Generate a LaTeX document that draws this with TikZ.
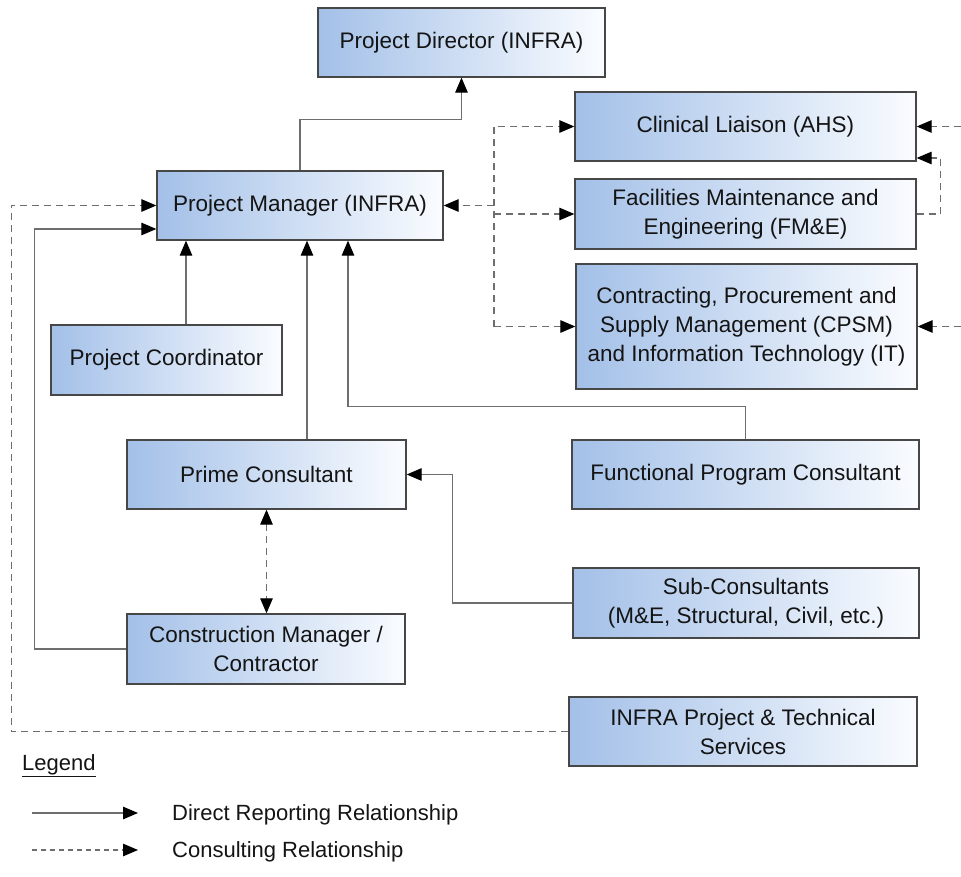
\documentclass[tikz,border=0pt]{standalone}
\usepackage{fontspec}
\setmainfont{Liberation Sans}
\usetikzlibrary{arrows.meta,calc}
\definecolor{boxL}{HTML}{A3C0E8}
\definecolor{boxR}{HTML}{FAFCFF}
\definecolor{boxline}{HTML}{474747}
\definecolor{linkgray}{HTML}{6E6E6E}
\definecolor{txt}{HTML}{141414}
\begin{document}
\begin{tikzpicture}[x=1pt,y=-1pt,
  >={Triangle[length=15pt,width=12.5pt,color=black]},
  orgbox/.style={draw=boxline, line width=1.3pt, left color=boxL, right color=boxR,
    inner sep=0pt, align=center, text=txt,
    font=\fontsize{22.5}{29}\selectfont},
  rep/.style={draw=linkgray, line width=1.1pt},
  con/.style={draw=linkgray, line width=1.1pt, dash pattern=on 7pt off 5pt},
  legtext/.style={text=txt, inner sep=0pt, font=\fontsize{22}{26}\selectfont}]
\useasboundingbox (0,0) rectangle (961,877);

% organisation boxes
\node[orgbox, minimum width=287pt, minimum height=69pt] (pd) at (461.5,42.5) {Project Director (INFRA)};
\node[orgbox, minimum width=286pt, minimum height=69pt] (pm) at (300,205.5) {Project Manager (INFRA)};
\node[orgbox, minimum width=341pt, minimum height=69pt] (cl) at (745.5,126.5) {Clinical Liaison (AHS)};
\node[orgbox, minimum width=341pt, minimum height=70pt] (fm) at (745.5,214) {Facilities Maintenance and\\Engineering (FM\&E)};
\node[orgbox, minimum width=341pt, minimum height=125pt] (cp) at (746.5,326.5) {Contracting, Procurement and\\Supply Management (CPSM)\\and Information Technology (IT)};
\node[orgbox, minimum width=231pt, minimum height=70pt] (pc) at (166.5,360) {Project Coordinator};
\node[orgbox, minimum width=279pt, minimum height=69pt] (pr) at (266.5,474.5) {Prime Consultant};
\node[orgbox, minimum width=347pt, minimum height=69pt] (fp) at (745.5,474.5) {Functional Program Consultant};
\node[orgbox, minimum width=346pt, minimum height=70pt] (sc) at (746,603) {Sub-Consultants\\(M\&E, Structural, Civil, etc.)};
\node[orgbox, minimum width=278pt, minimum height=70pt] (cm) at (266,649) {Construction Manager /\\Contractor};
\node[orgbox, minimum width=348pt, minimum height=69pt] (it) at (743,731.5) {INFRA Project \& Technical\\Services};

% helper columns
\coordinate (x186) at (186,0);
\coordinate (x307) at (307,0);
\coordinate (x348) at (348,0);
\coordinate (x494) at (494,0);
\coordinate (edge) at (961,0);

% direct reporting lines
\draw[rep,->] (pm.north) |- ($(pd.south)+(0,42)$) -- (pd.south);
\draw[rep,->] (pc.north -| x186) -- (pm.south -| x186);
\draw[rep,->] (pr.north -| x307) -- (pm.south -| x307);
\draw[rep,->] (fp.north) -- ++(0,-33) -| (pm.south -| x348);
\draw[rep,->] (sc.west) -| ($(pr.east)+(46,0)$) -- (pr.east);
\draw[rep,->] (cm.west) -- ++(-92,0) |- ([yshift=-23.5pt]pm.west);

% consulting lines
\draw[con,<->] (pr.south) -- (pr.south |- cm.north);
\draw[con,->] (it.west) -- ++(-557,0) |- (pm.west);
\draw[con,->] (x494 |- pm.east) -- (pm.east);
\draw[con,->] (x494 |- cp.west) |- (cl.west);
\draw[con,->] (x494 |- fm.west) -- (fm.west);
\draw[con,->] (x494 |- cp.west) -- (cp.west);
\draw[con,->] (fm.east) -- ++(24,0) |- ([yshift=-31.5pt]cl.east);
\draw[con,->] (edge |- cl.east) -- (cl.east);
\draw[con,->] (edge |- cp.east) -- (cp.east);

% legend
\node[legtext, anchor=base west] (leg) at (22,770) {\underline{Legend}};
\coordinate (s1) at (32,813);
\coordinate (s2) at (138,813);
\coordinate (d1) at (32,850);
\coordinate (d2) at (138,850);
\draw[rep,->] (s1) -- (s2);
\draw[con,dash pattern=on 5pt off 4pt,->] (d1) -- (d2);
\node[legtext, anchor=base west] (legrep) at (172,820) {Direct Reporting Relationship};
\node[legtext, anchor=base west] (legcon) at (172,857) {Consulting Relationship};
\end{tikzpicture}
\end{document}
